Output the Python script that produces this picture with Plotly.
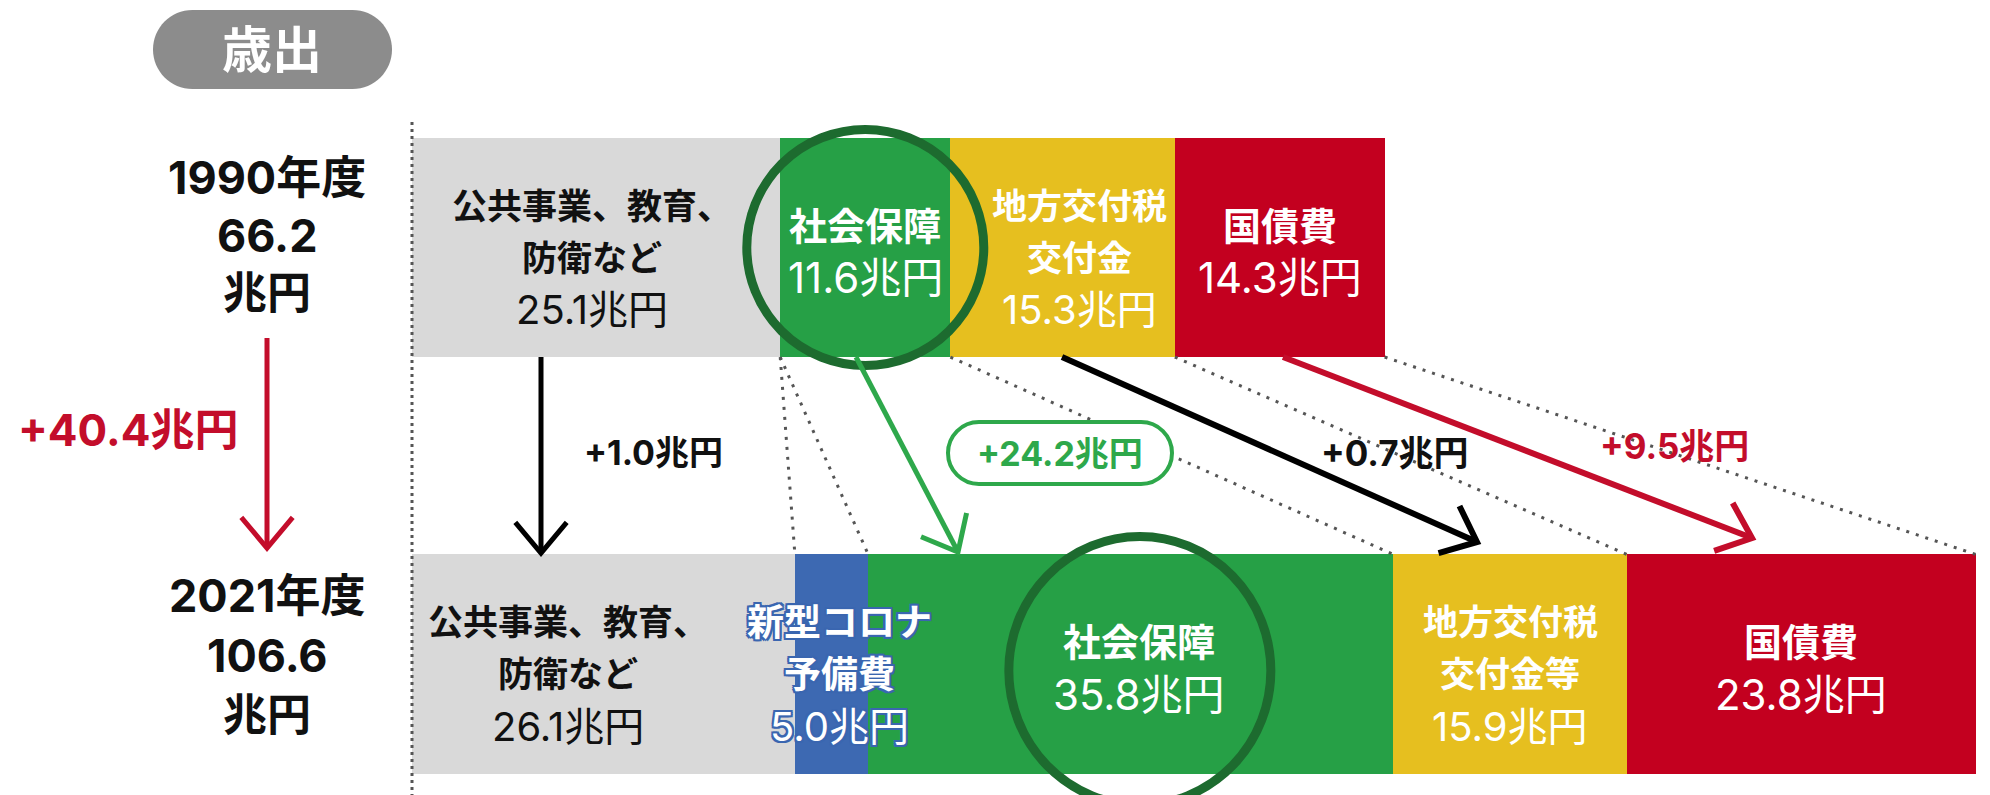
import math
import plotly.graph_objects as go

# ---------------- data ----------------
years = ["1990年度", "2021年度"]
year_totals = [66.2, 106.6]
total_change_label = "+40.4兆円"
section_label = "歳出"
categories = ["公共事業、教育、防衛など", "新型コロナ予備費", "社会保障", "地方交付税交付金", "国債費"]
values_1990 = [25.1, 0.0, 11.6, 15.3, 14.3]
values_2021 = [26.1, 5.0, 35.8, 15.9, 23.8]
titles_1990 = [["公共事業、教育、", "防衛など"], [], ["社会保障"], ["地方交付税", "交付金"], ["国債費"]]
titles_2021 = [["公共事業、教育、", "防衛など"], ["新型コロナ", "予備費"], ["社会保障"], ["地方交付税", "交付金等"], ["国債費"]]
change_labels = ["+1.0兆円", "+24.2兆円", "+0.7兆円", "+9.5兆円"]

# ---------------- styles ----------------
W, H = 1990, 795
FONT = "Inter, Noto Sans CJK JP, sans-serif"
bar_colors = ["#d9d9d9", "#3d69b2", "#26a046", "#e6bf1f", "#c3001f"]
text_colors = ["#111111", "#ffffff", "#ffffff", "#ffffff", "#ffffff"]
RED = "#c30d2b"
GREEN = "#2ea84b"
DARK_GREEN = "#1d6b2f"
DOT = "#555555"

# pixel <-> data mapping (margins are 0)
PX0, KX = 412.0, 14.67      # x pixel of value 0, pixels per 兆円
PY0, KY = 247.5, 416.5      # y pixel of row 0, pixels per row
BAR_W = 0.526


def X(px):
    return (px - PX0) / KX


def Y(py):
    return (py - PY0) / KY


def PYof(y):
    return PY0 + y * KY


fig = go.Figure()
rows = [0, 1]
for i, cat in enumerate(categories):
    fig.add_trace(go.Bar(
        y=rows, x=[values_1990[i], values_2021[i]], orientation="h", width=BAR_W,
        name=cat, marker=dict(color=bar_colors[i], line=dict(width=0)),
        hoverinfo="skip", showlegend=False,
    ))


def edges(vals):
    e = [0.0]
    for v in vals:
        e.append(e[-1] + v)
    return e


edges_1990 = edges(values_1990)
edges_2021 = edges(values_2021)

shapes = []
annots = []


def line_px(p, q, color, width, dash="solid"):
    shapes.append(dict(type="line", xref="x", yref="y",
                       x0=X(p[0]), y0=Y(p[1]), x1=X(q[0]), y1=Y(q[1]),
                       line=dict(color=color, width=width, dash=dash), layer="above"))


def arrow_px(p, q, color, width, head=40, ang=40):
    line_px(p, q, color, width)
    dx, dy = q[0] - p[0], q[1] - p[1]
    L = math.hypot(dx, dy)
    bx, by = -dx / L, -dy / L
    pts = []
    for s in (1, -1):
        a = math.radians(ang * s)
        rx = bx * math.cos(a) - by * math.sin(a)
        ry = bx * math.sin(a) + by * math.cos(a)
        pts.append((q[0] + rx * head, q[1] + ry * head))
    path = "M{},{} L{},{} L{},{}".format(X(pts[0][0]), Y(pts[0][1]), X(q[0]), Y(q[1]),
                                         X(pts[1][0]), Y(pts[1][1]))
    shapes.append(dict(type="path", xref="x", yref="y", path=path,
                       line=dict(color=color, width=width), layer="above"))


def roundrect_px(x0, y0, x1, y1, r):
    k = 0.5523 * r
    pts = [
        ("M", [(x0 + r, y0)]),
        ("L", [(x1 - r, y0)]),
        ("C", [(x1 - r + k, y0), (x1, y0 + r - k), (x1, y0 + r)]),
        ("L", [(x1, y1 - r)]),
        ("C", [(x1, y1 - r + k), (x1 - r + k, y1), (x1 - r, y1)]),
        ("L", [(x0 + r, y1)]),
        ("C", [(x0 + r - k, y1), (x0, y1 - r + k), (x0, y1 - r)]),
        ("L", [(x0, y0 + r)]),
        ("C", [(x0, y0 + r - k), (x0 + r - k, y0), (x0 + r, y0)]),
    ]
    s = ""
    for cmd, ps in pts:
        s += cmd + " ".join("{},{}".format(X(a), Y(b)) for a, b in ps) + " "
    return s + "Z"


def text_px(x, y, txt, size, color, bold=False, shadow=None, data_x=None):
    f = dict(family=FONT, size=size, color=color)
    if shadow:
        f["shadow"] = shadow
    annots.append(dict(
        x=data_x if data_x is not None else X(x), y=Y(y), xref="x", yref="y",
        text=("<b>%s</b>" % txt) if bold else txt, showarrow=False,
        xanchor="center", yanchor="middle", font=f,
    ))


# ---- dotted connectors between bars (from segment edges) ----
top_bot = 0 + BAR_W / 2
bot_top = 1 - BAR_W / 2
connect = [(1, 1), (1, 2), (3, 3), (4, 4), (5, 5)]
for a, b in connect:
    shapes.append(dict(type="line", xref="x", yref="y",
                       x0=edges_1990[a], y0=top_bot, x1=edges_2021[b], y1=bot_top,
                       line=dict(color=DOT, width=3, dash="3px,7px"), layer="above"))
# left dotted guide at value 0
shapes.append(dict(type="line", xref="x", yref="y", x0=0, x1=0, y0=Y(122), y1=Y(795),
                   line=dict(color=DOT, width=3, dash="3px,4px"), layer="above"))

# ---- highlight ellipses around 社会保障 ----
c0 = (edges_1990[2] + edges_1990[3]) / 2
shapes.append(dict(type="circle", xref="x", yref="y",
                   x0=c0 - X(PX0 + 118.5), x1=c0 + X(PX0 + 118.5), y0=Y(129.5), y1=Y(365.5),
                   line=dict(color=DARK_GREEN, width=9), layer="above"))
c1 = (edges_2021[2] + edges_2021[3]) / 2 + X(PX0 + 9)
shapes.append(dict(type="circle", xref="x", yref="y",
                   x0=c1 - X(PX0 + 131), x1=c1 + X(PX0 + 131), y0=Y(536.5), y1=Y(805),
                   line=dict(color=DARK_GREEN, width=9), layer="above"))

# ---- arrows ----
arrow_px((267, 338), (267, 548), RED, 5)
arrow_px((541, 357), (541, 553), "#000000", 5)
arrow_px((856, 357), (958, 552), GREEN, 5)
arrow_px((1062, 357), (1477, 542), "#000000", 6)
arrow_px((1283, 357), (1752, 538), RED, 6)

# ---- +24.2 rounded box ----
shapes.append(dict(type="path", xref="x", yref="y", path=roundrect_px(948, 422, 1172, 484, 31),
                   line=dict(color=GREEN, width=4), fillcolor="#ffffff", layer="above"))

# ---- 歳出 pill ----
shapes.append(dict(type="path", xref="x", yref="y", path=roundrect_px(153, 10, 392, 89, 39.5),
                   line=dict(width=0), fillcolor="#8c8c8c", layer="above"))
text_px(272, 50, section_label, 50, "#ffffff", bold=True)

# ---- left labels ----
for r, (yr, tot) in enumerate(zip(years, year_totals)):
    base = [177, 595][r]
    step = [58, 60][r]
    text_px(267, base, yr, 45, "#111111", bold=True)
    text_px(267, base + step, "%.1f" % tot, 45, "#111111", bold=True)
    text_px(267, base + 2 * step, "兆円", 44, "#111111", bold=True)
text_px(128, 430, total_change_label, 44, RED, bold=True)

# ---- change labels ----
text_px(653, 452, change_labels[0], 34, "#111111", bold=True)
text_px(1060, 453, change_labels[1], 34, GREEN, bold=True)
text_px(1395, 453, change_labels[2], 35, "#111111", bold=True)
text_px(1674, 446, change_labels[3], 35, RED, bold=True)

# ---- segment labels ----
x_shift_px = {(0, 0): -4, (0, 3): 17, (1, 0): -35, (1, 1): 8, (1, 2): 8}
BLUE_SHADOW = ", ".join("%dpx %dpx 0 #3a66b0" % (a, b) for a, b in
                        [(2, 0), (-2, 0), (0, 2), (0, -2), (2, 2), (-2, -2), (2, -2), (-2, 2)])
for r, (vals, titles, e) in enumerate([(values_1990, titles_1990, edges_1990),
                                       (values_2021, titles_2021, edges_2021)]):
    yc = PYof(r)
    for i, v in enumerate(vals):
        if v <= 0:
            continue
        cx = (e[i] + e[i + 1]) / 2 + x_shift_px.get((r, i), 0) / KX
        tl = titles[i]
        shadow = BLUE_SHADOW if i == 1 else None
        if len(tl) == 2:
            offs, tsize, vsize = [-42, 10, 62], (37 if i == 1 else 35), 40
        else:
            offs, tsize, vsize = [-22, 30], 38, 42
        for t, o in zip(tl, offs):
            text_px(0, yc + o, t, tsize, text_colors[i], bold=True, shadow=shadow, data_x=cx)
        text_px(0, yc + offs[-1], "%.1f兆円" % v, vsize, text_colors[i], shadow=shadow, data_x=cx)

fig.update_layout(
    width=W, height=H, autosize=False,
    margin=dict(l=0, r=0, t=0, b=0, pad=0),
    paper_bgcolor="#ffffff", plot_bgcolor="#ffffff",
    barmode="stack", bargap=0,
    xaxis=dict(range=[X(0), X(W)], visible=False, fixedrange=True),
    yaxis=dict(range=[Y(H), Y(0)], visible=False, fixedrange=True),
    shapes=shapes, annotations=annots,
    font=dict(family=FONT),
)

fig.write_html("out.html", config={"displayModeBar": False},
               post_script="document.body.style.margin='0';document.body.style.overflow='hidden';")
